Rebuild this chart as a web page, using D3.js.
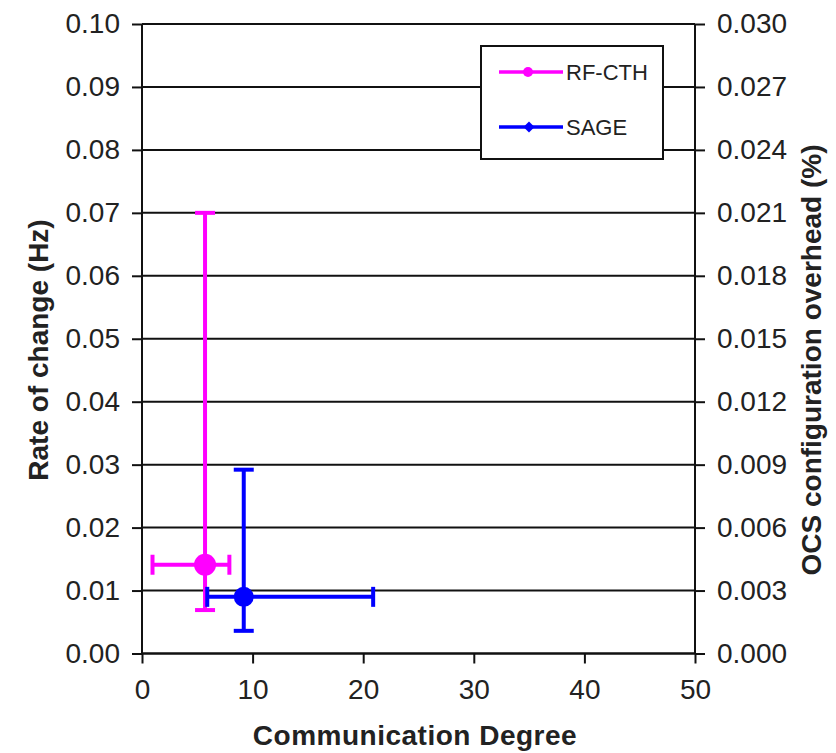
<!DOCTYPE html>
<html>
<head>
<meta charset="utf-8">
<script src="https://cdn.jsdelivr.net/npm/d3@7"></script>
<style>
  html, body { margin: 0; padding: 0; background: #fff; }
  svg text { font-family: "Liberation Sans", Arial, sans-serif; }
</style>
</head>
<body>
<svg id="chart" width="836" height="753"></svg>
<script>
// ---- data ----
const seriesNames = ["RF-CTH", "SAGE"];
const seriesColors = ["#ff00ff", "#0000ff"];
const xMean = [5.7, 9.2];
const yMean = [0.0141, 0.0090];
const xLow  = [0.95, 5.9];
const xHigh = [7.9, 20.9];
const yLow  = [0.0069, 0.0036];
const yHigh = [0.0700, 0.0292];
const xTicks = [0, 10, 20, 30, 40, 50];
const yTicks = [0, 0.01, 0.02, 0.03, 0.04, 0.05, 0.06, 0.07, 0.08, 0.09, 0.10];
const y2Ticks = [0, 0.003, 0.006, 0.009, 0.012, 0.015, 0.018, 0.021, 0.024, 0.027, 0.030];

const svg = d3.select("#chart");
const L = 142, R = 695, T = 24, B = 653.5;

const x = d3.scaleLinear().domain([0, 50]).range([L, R]);
const y = d3.scaleLinear().domain([0, 0.10]).range([B, T]);
const y2 = d3.scaleLinear().domain([0, 0.030]).range([B, T]);

// gridlines
svg.append("g").selectAll("line").data(yTicks).join("line")
  .attr("x1", L).attr("x2", R)
  .attr("y1", d => y(d)).attr("y2", d => y(d))
  .attr("stroke", "#111").attr("stroke-width", 2);

// axes
const tickFont = "28px";
const yAxis = svg.append("g").attr("transform", `translate(${L},0)`)
  .call(d3.axisLeft(y).tickValues(yTicks).tickFormat(d3.format(".2f")).tickSize(10).tickPadding(12));
const y2Axis = svg.append("g").attr("transform", `translate(${R},0)`)
  .call(d3.axisRight(y2).tickValues(y2Ticks).tickFormat(d3.format(".3f")).tickSize(10).tickPadding(12));
const xAxis = svg.append("g").attr("transform", `translate(0,${B})`)
  .call(d3.axisBottom(x).tickValues(xTicks).tickFormat(d3.format("d")).tickSize(10).tickPadding(16));

[yAxis, y2Axis, xAxis].forEach(g => {
  g.select(".domain").attr("stroke", "#111").attr("stroke-width", 2);
  g.selectAll(".tick line").attr("stroke", "#111").attr("stroke-width", 2);
  g.selectAll("text").attr("font-size", tickFont).attr("fill", "#222")
    .attr("font-family", "'Liberation Sans', Arial, sans-serif");
});
xAxis.select(".domain").attr("d", `M${L},0H${R}`);
yAxis.select(".domain").attr("d", `M0,${T}V${B}`);
y2Axis.select(".domain").attr("d", `M0,${T}V${B}`);

// axis titles
svg.append("text").attr("x", 415).attr("y", 745).attr("text-anchor", "middle")
  .attr("font-size", "28px").attr("font-weight", "bold").attr("fill", "#222")
  .attr("letter-spacing", "0.5px")
  .text("Communication Degree");
svg.append("text").attr("transform", "translate(48,350) rotate(-90)")
  .attr("text-anchor", "middle")
  .attr("font-size", "28px").attr("font-weight", "bold").attr("fill", "#222")
  .text("Rate of change (Hz)");
svg.append("text").attr("transform", "translate(821,360) rotate(-90)")
  .attr("text-anchor", "middle")
  .attr("font-size", "28px").attr("font-weight", "bold").attr("fill", "#222")
  .text("OCS configuration overhead (%)");

// error bars
const idx = d3.range(seriesNames.length);
const capHalf = 10;
const eb = svg.append("g");
idx.forEach(i => {
  const c = seriesColors[i];
  const g = eb.append("g").attr("stroke", c).attr("stroke-width", 4).attr("fill", "none");
  // vertical
  g.append("line").attr("x1", x(xMean[i])).attr("x2", x(xMean[i]))
    .attr("y1", y(yLow[i])).attr("y2", y(yHigh[i]));
  [yLow[i], yHigh[i]].forEach(v => g.append("line")
    .attr("x1", x(xMean[i]) - capHalf).attr("x2", x(xMean[i]) + capHalf)
    .attr("y1", y(v)).attr("y2", y(v)));
  // horizontal
  g.append("line").attr("y1", y(yMean[i])).attr("y2", y(yMean[i]))
    .attr("x1", x(xLow[i])).attr("x2", x(xHigh[i]));
  [xLow[i], xHigh[i]].forEach(v => g.append("line")
    .attr("y1", y(yMean[i]) - capHalf).attr("y2", y(yMean[i]) + capHalf)
    .attr("x1", x(v)).attr("x2", x(v)));
});
// markers
svg.append("circle").attr("cx", x(xMean[0])).attr("cy", y(yMean[0])).attr("r", 11)
  .attr("fill", seriesColors[0]);
svg.append("path").attr("transform", `translate(${x(xMean[1])},${y(yMean[1])})`)
  .attr("d", d3.symbol().type(d3.symbolCircle).size(Math.PI * 100)())
  .attr("fill", seriesColors[1]);

// legend
const lg = svg.append("g");
lg.append("rect").attr("x", 481).attr("y", 46).attr("width", 182).attr("height", 113)
  .attr("fill", "#fff").attr("stroke", "#111").attr("stroke-width", 2);
idx.forEach(i => {
  const ly = [72, 127][i];
  lg.append("line").attr("x1", 499).attr("x2", 563).attr("y1", ly).attr("y2", ly)
    .attr("stroke", seriesColors[i]).attr("stroke-width", 3.5);
  if (i === 0) {
    lg.append("circle").attr("cx", 528).attr("cy", ly).attr("r", 5).attr("fill", seriesColors[i]);
  } else {
    lg.append("path").attr("transform", `translate(529,${ly}) rotate(45)`)
      .attr("d", d3.symbol().type(d3.symbolSquare).size(60)()).attr("fill", seriesColors[i]);
  }
  lg.append("text").attr("x", 566).attr("y", ly).attr("dy", "0.36em")
    .attr("font-size", "22px").attr("fill", "#222").text(seriesNames[i]);
});
</script>
</body>
</html>
